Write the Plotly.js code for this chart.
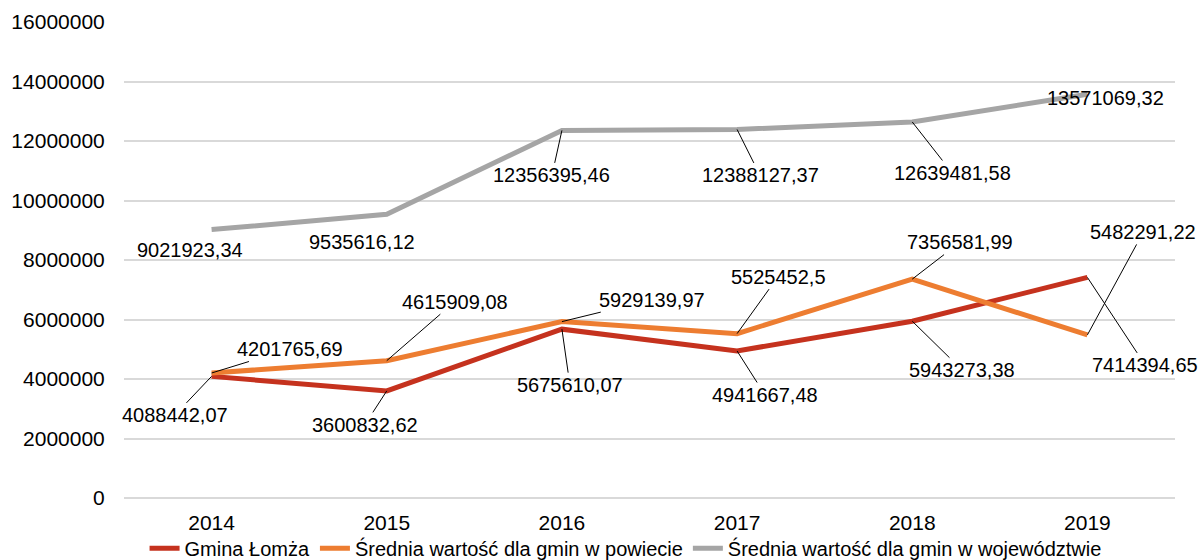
<!DOCTYPE html>
<html>
<head>
<meta charset="utf-8">
<script src="https://cdn.plot.ly/plotly-3.0.1.min.js"></script>
<style>
  html, body { margin: 0; padding: 0; background: #fff; }
  #chart { width: 1203px; height: 560px; }
</style>
</head>
<body>
<div id="chart"></div>
<script>
var years = ['2014', '2015', '2016', '2017', '2018', '2019'];
var gmina = [4088442.07, 3600832.62, 5675610.07, 4941667.48, 5943273.38, 7414394.65];
var powiat = [4201765.69, 4615909.08, 5929139.97, 5525452.5, 7356581.99, 5482291.22];
var woj = [9021923.34, 9535616.12, 12356395.46, 12388127.37, 12639481.58, 13571069.32];
var names = ['Gmina Łomża', 'Średnia wartość dla gmin w powiecie', 'Średnia wartość dla gmin w województwie'];

// label offsets (px) from point to label centre, picked by eye
var offGmina = [[-37, 39], [-22, 34], [8, 56], [28, 44], [50, 49], [58, 88]];
var offPowiat = [[78, -24], [68, -59], [90, -22], [41, -57], [48, -37], [56, -103]];
var offWoj = [[-22, 20], [-25, 28], [-10, 45], [23, 46], [40, 51], [18, 4]];
var arrowWoj = [false, false, true, true, true, false];

function fmt(v) {
  return String(v).replace('.', ',');
}

var annotations = [];
function addLabels(vals, offs, arrows) {
  vals.forEach(function (v, i) {
    var a = {
      x: i, y: v, xref: 'x', yref: 'y',
      text: fmt(v),
      font: {size: 20, color: '#000'}
    };
    if (arrows && !arrows[i]) {
      a.showarrow = false;
      a.xshift = offs[i][0];
      a.yshift = -offs[i][1];
    } else {
      a.showarrow = true;
      a.arrowhead = 0;
      a.arrowwidth = 1;
      a.arrowcolor = '#000';
      a.ax = offs[i][0];
      a.ay = offs[i][1];
    }
    annotations.push(a);
  });
}
addLabels(gmina, offGmina);
addLabels(powiat, offPowiat);
addLabels(woj, offWoj, arrowWoj);

var trace1 = {
  x: years, y: gmina, name: names[0],
  mode: 'lines', line: {color: '#C5321E', width: 5}
};
var trace2 = {
  x: years, y: powiat, name: names[1],
  mode: 'lines', line: {color: '#ED7D31', width: 5}
};
var trace3 = {
  x: years, y: woj, name: names[2],
  mode: 'lines', line: {color: '#A5A5A5', width: 5}
};

var layout = {
  width: 1203, height: 560,
  margin: {l: 124, r: 28, t: 22, b: 62},
  font: {family: 'Liberation Sans, Arial, sans-serif', size: 21, color: '#000'},
  paper_bgcolor: '#fff', plot_bgcolor: '#fff',
  showlegend: true,
  legend: {orientation: 'h', xref: 'container', yref: 'container',
           x: 0.52, xanchor: 'center', y: 0.021, yanchor: 'middle',
           bgcolor: 'rgba(0,0,0,0)', font: {size: 20}, tracegroupgap: 0},
  xaxis: {type: 'category', range: [-0.5, 5.5], showgrid: false, zeroline: false, showline: false,
          ticks: 'outside', ticklen: 6, tickcolor: 'rgba(0,0,0,0)'},
  yaxis: {range: [0, 16000000], dtick: 2000000, tickformat: 'd',
          showgrid: true, gridcolor: '#D9D9D9', gridwidth: 1.5,
          zeroline: true, zerolinecolor: '#D9D9D9', zerolinewidth: 1.5,
          ticks: 'outside', ticklen: 14, tickcolor: 'rgba(0,0,0,0)'},
  hovermode: false,
  annotations: annotations
};

Plotly.newPlot('chart', [trace1, trace2, trace3], layout, {displayModeBar: false});
</script>
</body>
</html>
